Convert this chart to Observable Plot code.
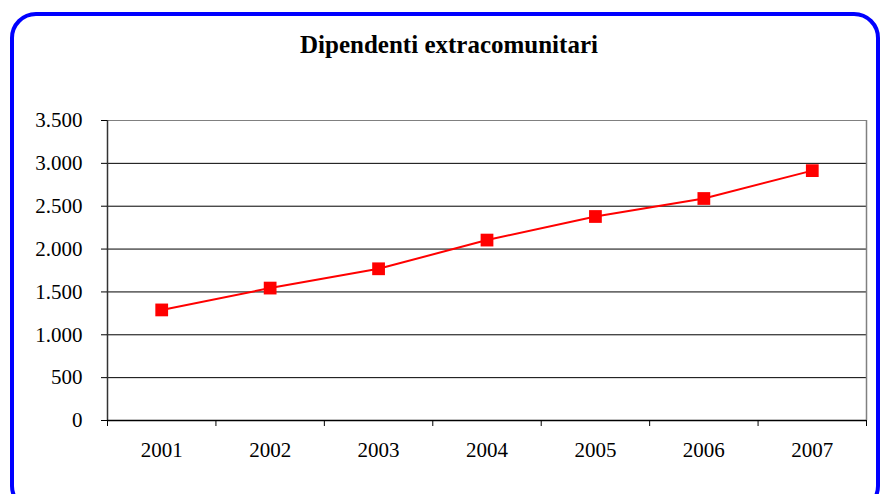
<!DOCTYPE html>
<html>
<head>
<meta charset="utf-8">
<script src="https://cdn.jsdelivr.net/npm/d3@7"></script>
<script src="https://cdn.jsdelivr.net/npm/@observablehq/plot@0.6"></script>
<style>
  html, body { margin: 0; padding: 0; background: #fff; overflow: hidden; }
  #wrap { position: relative; width: 884px; height: 494px; overflow: hidden; font-family: "Liberation Serif", "Times New Roman", serif; }
  #frame { position: absolute; left: 10px; top: 12px; width: 870px; height: 500px; border: 4px solid #0000ff; border-radius: 26px; box-sizing: border-box; }
  #title { position: absolute; left: 0; width: 898px; top: 29px; text-align: center; font-weight: bold; font-size: 25px; line-height: 32px; color: #000; }
  #chart { position: absolute; left: 0; top: 100px; }
</style>
</head>
<body>
<div id="wrap">
  <div id="frame"></div>
  <div id="title">Dipendenti extracomunitari</div>
  <div id="chart"></div>
</div>
<script>
const years = [2001, 2002, 2003, 2004, 2005, 2006, 2007];
const values = [1290, 1545, 1770, 2105, 2380, 2590, 2915];
const yTicks = [0, 500, 1000, 1500, 2000, 2500, 3000, 3500];
const yTickLabels = ["0", "500", "1.000", "1.500", "2.000", "2.500", "3.000", "3.500"];
const xTickLabels = ["2001", "2002", "2003", "2004", "2005", "2006", "2007"];

const data = years.map((y, i) => ({year: y, value: values[i]}));
const xMin = years[0] - 0.5;
const xMax = years[years.length - 1] + 0.5;
const bounds = [...years.map(y => y - 0.5), xMax];
const yMax = yTicks[yTicks.length - 1];
const innerGrid = yTicks.slice(1, -1);

const chart = Plot.plot({
  width: 884,
  height: 394,
  marginLeft: 107,
  marginRight: 18,
  marginTop: 20,
  marginBottom: 74,
  style: {fontFamily: '"Liberation Serif", "Times New Roman", serif', fontSize: "21px", color: "#000", background: "transparent"},
  x: {type: "linear", domain: [xMin, xMax]},
  y: {domain: [0, yMax]},
  marks: [
    Plot.ruleY(innerGrid, {stroke: "#000", strokeWidth: 1}),
    Plot.ruleY([yMax], {stroke: "#808080", strokeWidth: 1}),
    Plot.ruleX([xMax], {stroke: "#808080", strokeWidth: 1.5}),
    Plot.ruleX([xMin], {stroke: "#333", strokeWidth: 1.5}),
    Plot.ruleY([0], {stroke: "#000", strokeWidth: 1.5}),
    Plot.axisY({ticks: yTicks, tickSize: 6, tickPadding: 19, tickFormat: d => yTickLabels[yTicks.indexOf(d)], label: null, stroke: "#000"}),
    Plot.axisX({ticks: bounds, tickSize: 6, tickFormat: () => "", label: null}),
    Plot.axisX({ticks: years, tickSize: 0, tickPadding: 22, tickFormat: d => xTickLabels[years.indexOf(d)], label: null}),
    Plot.line(data, {x: "year", y: "value", stroke: "#ff0000", strokeWidth: 2}),
    Plot.dot(data, {x: "year", y: "value", symbol: "square", r: 7.2, fill: "#ff0000", stroke: "none"})
  ]
});
document.getElementById("chart").appendChild(chart);
</script>
</body>
</html>
